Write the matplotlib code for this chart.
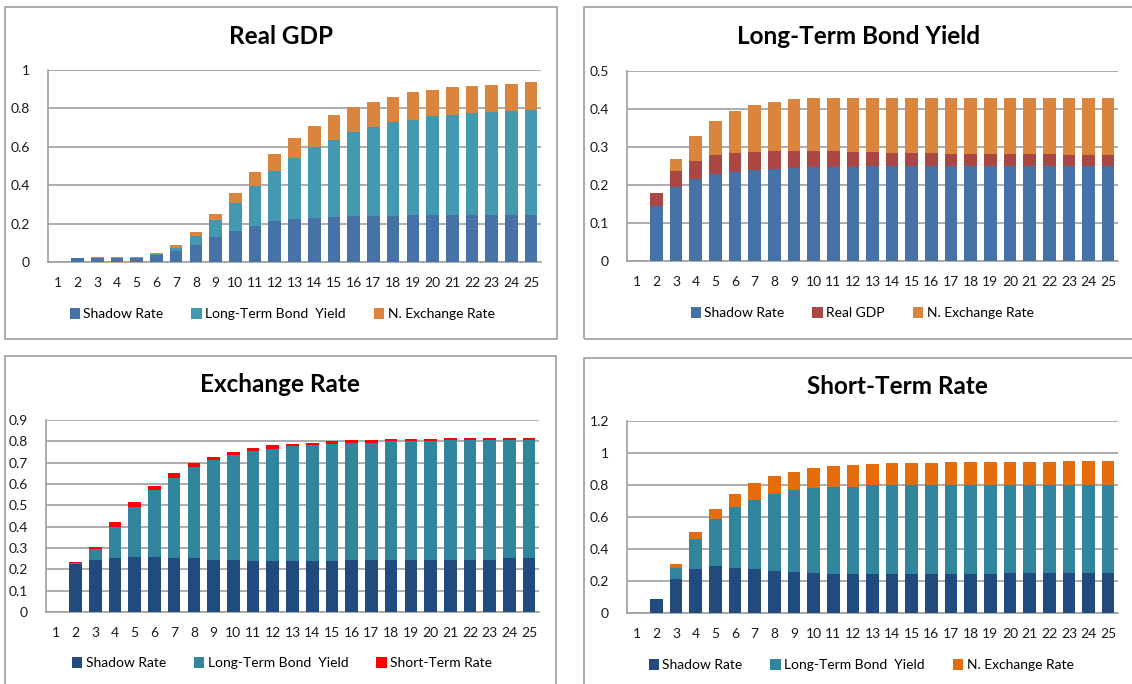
import matplotlib
matplotlib.use("Agg")
import matplotlib.pyplot as plt
from matplotlib.patches import Rectangle, Patch
import numpy as np

plt.rcParams['font.family'] = ['Lato', 'DejaVu Sans']

categories = [str(i) for i in range(1, 26)]

# Panel 1: Real GDP
gdp_shadow = [0, 0.020, 0.020, 0.020, 0.020, 0.036, 0.057, 0.091, 0.129, 0.164, 0.188, 0.212, 0.224,
              0.229, 0.234, 0.241, 0.241, 0.241, 0.247, 0.247, 0.247, 0.247, 0.247, 0.247, 0.247]
gdp_ltby = [0, 0, 0.003, 0.003, 0.003, 0.005, 0.017, 0.042, 0.090, 0.141, 0.207, 0.260, 0.319,
            0.368, 0.404, 0.435, 0.464, 0.487, 0.494, 0.512, 0.519, 0.529, 0.534, 0.541, 0.546]
gdp_ner = [0, 0, 0.003, 0.003, 0.003, 0.006, 0.012, 0.024, 0.033, 0.054, 0.072, 0.090, 0.102,
           0.113, 0.126, 0.129, 0.129, 0.131, 0.142, 0.136, 0.146, 0.143, 0.143, 0.141, 0.143]

# Panel 2: Long-Term Bond Yield
ltby_shadow = [0, 0.146, 0.194, 0.215, 0.228, 0.234, 0.239, 0.242, 0.245, 0.248, 0.248, 0.248, 0.250,
               0.250, 0.250, 0.250, 0.250, 0.250, 0.250, 0.250, 0.250, 0.250, 0.250, 0.250, 0.250]
ltby_gdp = [0, 0.032, 0.042, 0.048, 0.050, 0.050, 0.048, 0.048, 0.045, 0.042, 0.042, 0.039, 0.037,
            0.034, 0.034, 0.034, 0.031, 0.031, 0.031, 0.031, 0.031, 0.031, 0.028, 0.028, 0.028]
ltby_ner = [0, 0, 0.033, 0.066, 0.090, 0.111, 0.123, 0.128, 0.135, 0.138, 0.138, 0.143, 0.143,
            0.146, 0.146, 0.146, 0.147, 0.147, 0.147, 0.147, 0.147, 0.147, 0.150, 0.150, 0.150]

# Panel 3: Exchange Rate
er_shadow = [0, 0.227, 0.246, 0.251, 0.257, 0.257, 0.251, 0.251, 0.246, 0.246, 0.241, 0.241, 0.241,
             0.241, 0.241, 0.246, 0.246, 0.246, 0.246, 0.246, 0.246, 0.246, 0.246, 0.251, 0.251]
er_ltby = [0, 0.002, 0.049, 0.147, 0.234, 0.314, 0.379, 0.429, 0.466, 0.488, 0.513, 0.524, 0.535,
           0.543, 0.546, 0.547, 0.547, 0.554, 0.554, 0.554, 0.558, 0.558, 0.558, 0.553, 0.553]
er_str = [0, 0.004, 0.012, 0.022, 0.025, 0.020, 0.021, 0.018, 0.015, 0.015, 0.013, 0.017, 0.011,
          0.009, 0.013, 0.011, 0.011, 0.011, 0.011, 0.011, 0.011, 0.011, 0.011, 0.011, 0.011]

# Panel 4: Short-Term Rate
str_shadow = [0, 0.090, 0.211, 0.278, 0.293, 0.284, 0.278, 0.263, 0.255, 0.249, 0.243, 0.243, 0.243,
              0.243, 0.243, 0.243, 0.243, 0.243, 0.243, 0.249, 0.249, 0.249, 0.249, 0.249, 0.249]
str_ltby = [0, 0, 0.073, 0.186, 0.292, 0.377, 0.431, 0.483, 0.512, 0.535, 0.547, 0.547, 0.554,
            0.554, 0.554, 0.560, 0.560, 0.560, 0.560, 0.554, 0.554, 0.554, 0.554, 0.554, 0.554]
str_ner = [0, 0, 0.021, 0.042, 0.065, 0.083, 0.102, 0.109, 0.115, 0.121, 0.128, 0.136, 0.135,
           0.142, 0.142, 0.136, 0.142, 0.142, 0.142, 0.142, 0.142, 0.142, 0.150, 0.150, 0.150]

W, H = 1132, 684
fig = plt.figure(figsize=(W / 100, H / 100), dpi=100)
fig.patch.set_facecolor('white')


def fx(x):
    return x / W


def fy(y):
    return 1 - y / H


def box(x0, y0, x1, y1):
    fig.add_artist(Rectangle((fx(x0), fy(y1)), fx(x1) - fx(x0), fy(y0) - fy(y1),
                             transform=fig.transFigure, fill=False,
                             edgecolor='#A6A6A6', linewidth=1.3))


def panel(rect, title, tpos, series, names, colors, ymax, ystep, legpos):
    l, t, r, b = rect
    ax = fig.add_axes([fx(l), fy(b), fx(r) - fx(l), fy(t) - fy(b)])
    x = np.arange(1, len(categories) + 1)
    bottom = np.zeros(len(categories))
    handles = []
    for vals, name, col in zip(series, names, colors):
        v = np.array(vals)
        ax.bar(x, v, bottom=bottom, width=0.64, color=col, zorder=3, linewidth=0)
        bottom = bottom + v
        handles.append(Patch(facecolor=col, label=name))
    ax.set_xlim(0.5, len(categories) + 0.5)
    ax.set_ylim(0, ymax)
    yt = np.round(np.arange(0, ymax + ystep / 2, ystep), 3)
    ax.set_yticks(yt)
    ax.set_yticklabels([f"{v:g}" for v in yt])
    ax.set_xticks(x)
    ax.set_xticklabels(categories)
    ax.yaxis.grid(True, color='#A0A0A0', linewidth=1.2, zorder=0)
    ax.set_axisbelow(True)
    for s in ['top', 'right']:
        ax.spines[s].set_visible(False)
    for s in ['left', 'bottom']:
        ax.spines[s].set_color('#A0A0A0')
        ax.spines[s].set_linewidth(1.2)
    ax.tick_params(axis='both', length=0, labelsize=10, colors='#1a1a1a')
    ax.tick_params(axis='y', pad=13)
    ax.tick_params(axis='x', pad=11)
    fig.text(fx(tpos[0]), fy(tpos[1]), title, ha='center', va='center',
             fontsize=17.5, fontweight='bold', color='black')
    ax.legend(handles=handles, loc='center', bbox_to_anchor=(fx(legpos[0]), fy(legpos[1])),
              bbox_transform=fig.transFigure, ncol=3, frameon=False, fontsize=10,
              handlelength=0.75, handleheight=0.9, handletextpad=0.25, columnspacing=2.0,
              borderpad=0)
    return ax


c_blue = '#4672A8'
c_teal = '#4399B0'
c_orange = '#DB843D'
c_red = '#AA4643'
c_navy = '#214A7E'
c_teal2 = '#31859C'
c_bred = '#FF0000'
c_orange2 = '#E46C0A'

box(5, 7, 557, 339)
box(584, 7, 1145, 339)
box(5, 356, 556, 695)
box(584, 358, 1145, 695)

panel((48, 70, 541, 262), 'Real GDP', (281, 36),
      [gdp_shadow, gdp_ltby, gdp_ner], ['Shadow Rate', 'Long-Term Bond  Yield', 'N. Exchange Rate'],
      [c_blue, c_teal, c_orange], 1.0, 0.2, (282, 314))
panel((627, 71, 1118, 261), 'Long-Term Bond Yield', (859, 37),
      [ltby_shadow, ltby_gdp, ltby_ner], ['Shadow Rate', 'Real GDP', 'N. Exchange Rate'],
      [c_blue, c_red, c_orange], 0.5, 0.1, (862, 313))
panel((46, 420, 539, 612), 'Exchange Rate', (280, 385),
      [er_shadow, er_ltby, er_str], ['Shadow Rate', 'Long-Term Bond  Yield', 'Short-Term Rate'],
      [c_navy, c_teal2, c_bred], 0.9, 0.1, (282, 663))
panel((627, 421, 1118, 613), 'Short-Term Rate', (897, 387),
      [str_shadow, str_ltby, str_ner], ['Shadow Rate', 'Long-Term Bond  Yield', 'N. Exchange Rate'],
      [c_navy, c_teal2, c_orange2], 1.2, 0.2, (861, 665))

fig.savefig('out.png', dpi=100, facecolor='white')
